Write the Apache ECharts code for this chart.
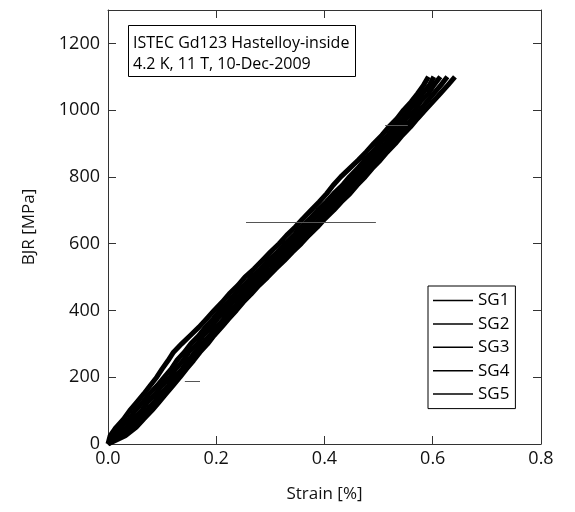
<!DOCTYPE html>
<html>
<head>
<meta charset="utf-8">
<script src="https://cdn.jsdelivr.net/npm/echarts@6/dist/echarts.min.js"></script>
<style>
  html, body { margin: 0; padding: 0; background: #fff; }
  #chart { width: 575px; height: 512px; }
</style>
</head>
<body>
<div id="chart"></div>
<script>
// stress levels (MPa) shared by all gauges
const stress = [0, 25, 50, 75, 100, 125, 150, 175, 200, 225, 250, 275, 300, 325, 350, 375, 400, 425, 450, 475,
  500, 525, 550, 575, 600, 625, 650, 675, 700, 725, 750, 775, 800, 825, 850, 875, 900, 925, 950, 975,
  1000, 1025, 1050, 1075, 1100];

// strain (%) at the stress levels above
const sg1 = [0.000, 0.004, 0.015, 0.029, 0.040, 0.053, 0.066, 0.078, 0.090, 0.100, 0.111, 0.121, 0.136, 0.152, 0.168, 0.182, 0.196, 0.211, 0.224, 0.240,
  0.253, 0.270, 0.285, 0.300, 0.316, 0.330, 0.346, 0.360, 0.375, 0.390, 0.404, 0.416, 0.430, 0.446, 0.462, 0.477, 0.491, 0.506, 0.519, 0.534,
  0.546, 0.560, 0.572, 0.583, 0.592];
const sg2 = [0.000, 0.010, 0.024, 0.039, 0.050, 0.064, 0.076, 0.091, 0.104, 0.117, 0.127, 0.141, 0.153, 0.168, 0.180, 0.194, 0.207, 0.222, 0.235, 0.251,
  0.265, 0.282, 0.296, 0.313, 0.327, 0.343, 0.357, 0.373, 0.387, 0.403, 0.417, 0.433, 0.446, 0.461, 0.474, 0.489, 0.502, 0.517, 0.529, 0.544,
  0.556, 0.570, 0.581, 0.594, 0.602];
const sg3 = [0.000, 0.017, 0.035, 0.047, 0.062, 0.073, 0.088, 0.099, 0.115, 0.125, 0.139, 0.149, 0.165, 0.176, 0.191, 0.202, 0.218, 0.230, 0.246, 0.259,
  0.276, 0.290, 0.307, 0.321, 0.338, 0.351, 0.368, 0.381, 0.398, 0.411, 0.428, 0.441, 0.457, 0.469, 0.485, 0.497, 0.513, 0.525, 0.540, 0.551,
  0.567, 0.577, 0.592, 0.602, 0.614];
const sg4 = [0.000, 0.024, 0.043, 0.058, 0.071, 0.085, 0.097, 0.111, 0.123, 0.137, 0.148, 0.161, 0.174, 0.188, 0.200, 0.214, 0.227, 0.241, 0.255, 0.270,
  0.285, 0.301, 0.316, 0.332, 0.347, 0.362, 0.377, 0.392, 0.407, 0.422, 0.437, 0.451, 0.466, 0.479, 0.494, 0.507, 0.522, 0.535, 0.549, 0.562,
  0.576, 0.589, 0.602, 0.615, 0.627];
const sg5 = [0.000, 0.032, 0.052, 0.066, 0.081, 0.094, 0.107, 0.120, 0.133, 0.145, 0.158, 0.170, 0.184, 0.196, 0.210, 0.223, 0.237, 0.250, 0.265, 0.279,
  0.295, 0.310, 0.326, 0.341, 0.357, 0.371, 0.387, 0.401, 0.417, 0.431, 0.447, 0.460, 0.475, 0.488, 0.503, 0.516, 0.531, 0.544, 0.559, 0.572,
  0.586, 0.600, 0.614, 0.628, 0.641];

const seriesNames = ['SG1', 'SG2', 'SG3', 'SG4', 'SG5'];
const seriesStrain = [sg1, sg2, sg3, sg4, sg5];

// short horizontal segments: [strain from, strain to, stress]
const flatSegments = [[0.142, 0.170, 189], [0.255, 0.495, 663], [0.512, 0.554, 955]];

const xTicks = [0, 0.8, 0.2];
const yTicks = [0, 1300, 200];

const FONT = 'Open Sans';

const chart = echarts.init(document.getElementById('chart'));

const sideAxis = {
  type: 'value',
  axisLine: { show: true, onZero: false, lineStyle: { color: '#333', width: 1 } },
  axisTick: { show: true, inside: true, length: 8, lineStyle: { color: '#333' } },
  splitLine: { show: false }
};

const series = seriesNames.map((name, k) => ({
  name: name,
  type: 'line',
  symbol: 'none',
  color: '#000',
  lineStyle: { color: '#000', width: 5 },
  data: stress.map((s, i) => [seriesStrain[k][i], s]),
  markLine: k === 0 ? {
    silent: true,
    symbol: 'none',
    label: { show: false },
    lineStyle: { color: '#555', width: 1, type: 'solid' },
    data: flatSegments.map(f => [{ coord: [f[0], f[2]] }, { coord: [f[1], f[2]] }])
  } : undefined
}));

const option = {
  animation: false,
  backgroundColor: '#fff',
  textStyle: { fontFamily: FONT },
  grid: { left: 108, right: 34, top: 10, bottom: 68 },
  xAxis: [
    Object.assign({}, sideAxis, {
      min: xTicks[0], max: xTicks[1], interval: xTicks[2],
      position: 'bottom',
      name: 'Strain [%]', nameLocation: 'middle', nameGap: 42,
      nameTextStyle: { fontFamily: FONT, fontSize: 17, color: '#111' },
      axisLabel: { margin: 6, fontFamily: FONT, fontSize: 18, color: '#111', formatter: v => v.toFixed(1) }
    }),
    Object.assign({}, sideAxis, {
      min: xTicks[0], max: xTicks[1], interval: xTicks[2],
      position: 'top', axisLabel: { show: false }
    })
  ],
  yAxis: [
    Object.assign({}, sideAxis, {
      min: yTicks[0], max: yTicks[1], interval: yTicks[2],
      position: 'left',
      name: 'BJR [MPa]', nameLocation: 'middle', nameGap: 70, nameRotate: 90,
      nameTextStyle: { fontFamily: FONT, fontSize: 17, color: '#111' },
      axisLabel: { margin: 8, fontFamily: FONT, fontSize: 18, color: '#111', showMaxLabel: false, formatter: v => String(v) }
    }),
    Object.assign({}, sideAxis, {
      min: yTicks[0], max: yTicks[1], interval: yTicks[2],
      position: 'right', axisLabel: { show: false }
    })
  ],
  legend: {
    orient: 'vertical',
    left: 428, top: 286,
    data: seriesNames,
    icon: 'path://M0 0H40V1.5H0Z',
    borderColor: '#000', borderWidth: 1, borderRadius: 0,
    backgroundColor: '#fff',
    padding: [6, 6, 6, 5],
    itemWidth: 40, itemHeight: 14, itemGap: 6.4,
    itemStyle: { color: '#000' },
    textStyle: { fontFamily: FONT, fontSize: 17, color: '#000' }
  },
  graphic: [{
    type: 'group',
    left: 128, top: 25,
    children: [
      { type: 'rect', shape: { x: 0.5, y: 0.5, width: 227, height: 51 },
        style: { fill: '#fff', stroke: '#000', lineWidth: 1 } },
      { type: 'text', x: 5, y: 8,
        style: { text: 'ISTEC Gd123 Hastelloy-inside\n4.2 K, 11 T, 10-Dec-2009',
          font: '16px "Open Sans"', lineHeight: 21, fill: '#000' } }
    ]
  }],
  series: series
};

chart.setOption(option);
</script>
</body>
</html>
